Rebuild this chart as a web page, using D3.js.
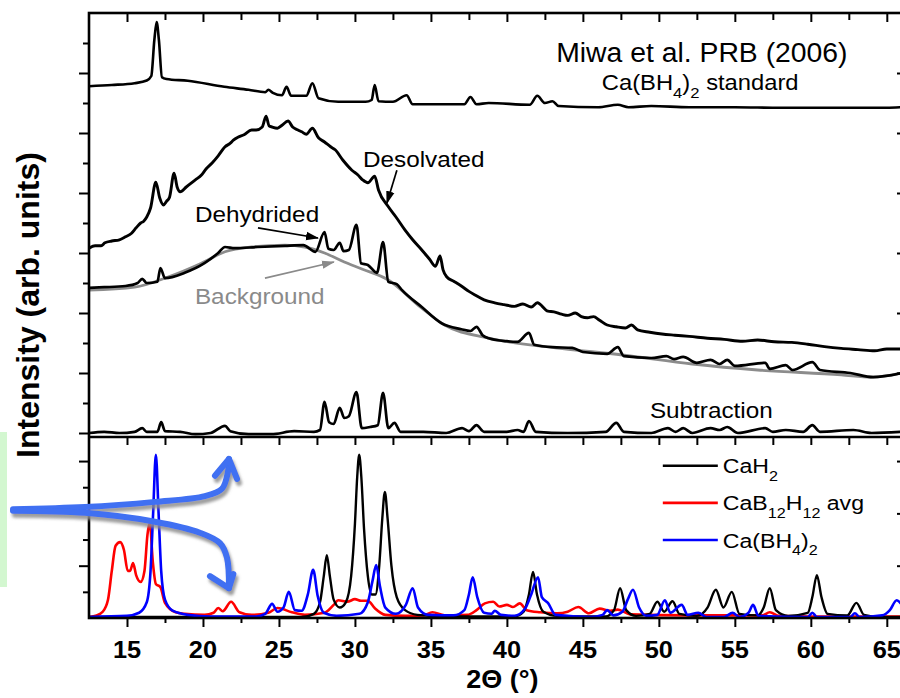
<!DOCTYPE html>
<html>
<head>
<meta charset="utf-8">
<script src="https://cdn.jsdelivr.net/npm/d3@7"></script>
<style>
  html, body { margin: 0; padding: 0; background: #fff; overflow: hidden; }
  svg { display: block; }
  text { font-family: "Liberation Sans", Arial, Helvetica, sans-serif; }
</style>
</head>
<body>
<svg id="chart" width="900" height="698"></svg>
<script>
// ---------------- data ----------------
// 2-theta axis ticks
const xTickValues = [15, 20, 25, 30, 35, 40, 45, 50, 55, 60, 65];
const xTickLabels = ["15", "20", "25", "30", "35", "40", "45", "50", "55", "60", "65"];
const xMinorTicks = [17.5, 22.5, 27.5, 32.5, 37.5, 42.5, 47.5, 52.5, 57.5, 62.5];

// upper panel (stacked, offset patterns) — [2theta, intensity]
const standardPattern = [
  [12.5,5.78],[14.0,5.80],[15.5,5.83],[16.3,5.875],[16.6,5.95],[16.8,6.55],[16.95,6.85],[17.1,6.55],[17.3,5.93],
  [17.6,5.90],[19.0,5.87],[21.4,5.77],[23.0,5.72],[24.1,5.68],[24.3,5.72],[24.6,5.67],[25.2,5.63],[25.5,5.77],
  [25.8,5.62],[26.8,5.62],[27.2,5.83],[27.6,5.58],[28.9,5.52],[30.7,5.52],[31.1,5.55],[31.3,5.80],[31.55,5.53],
  [32.5,5.52],[33.4,5.63],[33.8,5.48],[37.2,5.48],[37.6,5.60],[38.0,5.48],[38.8,5.50],[41.5,5.47],[42.0,5.62],
  [42.5,5.50],[43.0,5.53],[43.4,5.45],[46.0,5.43],[47.3,5.47],[48.0,5.43],[49.5,5.45],[52.0,5.43],[55.0,5.43],
  [58.0,5.42],[62.0,5.42],[65.0,5.42],[66.0,5.43]
];
const desolvatedPattern = [
  [12.5,3.08],[12.9,3.12],[13.3,3.12],[13.55,3.17],[14.0,3.20],[14.5,3.22],[14.9,3.27],[15.3,3.33],[15.6,3.42],
  [15.9,3.50],[16.1,3.53],[16.3,3.60],[16.55,3.75],[16.9,4.18],[17.15,3.92],[17.4,3.80],[17.6,3.86],[17.8,3.93],
  [18.1,4.33],[18.3,4.10],[18.5,4.02],[18.9,4.10],[19.2,4.16],[19.5,4.22],[19.9,4.30],[20.2,4.40],[20.6,4.50],
  [21.0,4.62],[21.45,4.77],[21.8,4.83],[22.0,4.88],[22.3,4.93],[22.7,4.97],[23.2,5.05],[23.5,5.05],[23.9,5.10],
  [24.15,5.28],[24.35,5.12],[24.55,5.10],[24.9,5.08],[25.2,5.13],[25.6,5.20],[25.9,5.10],[26.25,5.05],[26.5,5.02],
  [26.8,4.98],[27.2,5.08],[27.6,4.92],[28.0,4.85],[28.4,4.77],[28.7,4.72],[29.2,4.55],[29.8,4.38],[30.2,4.30],
  [30.5,4.22],[30.85,4.17],[31.3,4.28],[31.55,4.05],[32.2,3.77],[32.7,3.60],[33.3,3.38],[33.8,3.22],[34.4,3.05],
  [34.9,2.90],[35.3,2.78],[35.6,2.95],[35.8,2.72],[36.05,2.60],[36.5,2.53],[37.0,2.45],[37.5,2.36],[37.9,2.30],
  [38.5,2.22],[39.2,2.17],[39.8,2.14],[40.5,2.11],[41.05,2.15],[41.6,2.10],[42.0,2.17],[42.7,2.03],[43.1,2.02],
  [43.6,1.98],[44.0,1.96],[44.5,2.00],[44.9,1.94],[45.3,1.92],[45.7,1.94],[46.1,1.88],[46.6,1.80],[47.2,1.77],
  [47.8,1.75],[48.2,1.80],[48.6,1.72],[49.4,1.68],[50.2,1.65],[51.05,1.63],[52.0,1.61],[53.2,1.58],[54.3,1.56],
  [55.5,1.53],[56.5,1.55],[57.6,1.52],[58.75,1.51],[59.8,1.48],[60.9,1.44],[62.0,1.41],[63.1,1.39],[64.2,1.37],
  [65.0,1.40],[66.0,1.40]
];
const dehydridedPattern = [
  [12.5,2.42],[13.5,2.43],[14.9,2.45],[15.7,2.50],[16.0,2.57],[16.3,2.50],[17.0,2.52],[17.2,2.75],[17.5,2.58],
  [18.8,2.67],[20.1,2.83],[21.0,3.00],[21.45,3.10],[22.1,3.08],[23.6,3.10],[25.4,3.12],[26.6,3.13],[27.4,3.02],
  [28.0,3.35],[28.25,3.07],[28.6,3.05],[29.0,3.17],[29.25,3.03],[29.6,3.05],[30.1,3.47],[30.4,2.83],[30.85,2.80],
  [31.45,2.67],[31.85,3.18],[32.2,2.52],[32.75,2.48],[33.1,2.38],[34.4,2.10],[35.7,1.83],[37.0,1.73],[37.6,1.70],
  [38.0,1.77],[38.4,1.63],[38.8,1.58],[40.0,1.53],[40.7,1.52],[41.45,1.67],[41.8,1.47],[43.0,1.43],[44.3,1.42],
  [45.0,1.35],[46.6,1.32],[47.3,1.43],[47.7,1.28],[49.5,1.25],[50.5,1.28],[51.0,1.23],[51.6,1.27],[52.5,1.17],
  [53.4,1.22],[54.0,1.15],[54.5,1.22],[55.0,1.12],[57.0,1.17],[57.3,1.07],[58.35,1.13],[58.8,1.05],[60.1,1.18],
  [60.6,1.05],[62.6,1.00],[64.1,0.93],[66.0,1.00]
];
const backgroundFit = [
  [12.5,2.38],[15.5,2.43],[17.7,2.60],[19.9,2.83],[21.45,3.02],[23.2,3.10],[25.4,3.13],[26.7,3.10],[28.0,3.00],
  [29.3,2.85],[30.5,2.73],[32.2,2.55],[34.4,2.08],[35.9,1.80],[38.8,1.58],[43.2,1.42],[47.6,1.30],[52.2,1.15],
  [56.5,1.05],[62.0,0.97],[64.0,0.93],[66.0,1.00]
];
const subtractionPattern = [
  [12.5,0.00],[13.5,0.02],[14.5,0.00],[15.5,0.02],[16.0,0.08],[16.3,0.02],[17.0,0.02],[17.25,0.18],[17.5,0.03],
  [18.5,0.02],[19.5,-0.02],[20.5,0.00],[21.45,0.12],[21.8,0.03],[23.0,-0.02],[24.5,-0.02],[26.0,0.03],[27.3,0.02],
  [27.7,0.05],[28.0,0.52],[28.3,0.18],[28.6,0.15],[29.0,0.42],[29.3,0.25],[29.6,0.28],[30.1,0.68],[30.45,0.08],
  [31.0,0.10],[31.5,0.13],[31.85,0.67],[32.2,0.08],[32.6,0.17],[33.0,0.02],[34.5,0.02],[36.0,0.00],[37.05,0.08],
  [37.5,0.03],[38.0,0.13],[38.5,0.02],[40.0,0.02],[40.7,0.05],[41.1,0.02],[41.45,0.20],[41.9,0.02],[44.0,0.00],
  [46.5,0.02],[47.2,0.17],[47.7,0.02],[49.5,0.00],[50.6,0.08],[51.1,0.02],[51.6,0.08],[52.2,0.00],[53.4,0.08],
  [54.0,0.05],[54.5,0.10],[55.2,0.00],[57.0,0.08],[57.5,0.02],[58.35,0.05],[59.5,0.02],[60.1,0.13],[60.6,0.02],
  [62.8,0.05],[64.0,0.00],[66.0,0.02]
];

// lower panel reference patterns — [2theta, intensity]
const caH2Pattern = [
  [12.5,0.02],[20,0.02],[26.5,0.02],[27.3,0.08],[27.7,0.30],[27.95,0.80],[28.15,1.20],[28.35,0.80],[28.6,0.35],
  [29.0,0.20],[29.4,0.30],[29.75,0.80],[30.0,1.80],[30.15,2.70],[30.28,3.12],[30.42,2.70],[30.6,1.70],[30.85,0.80],
  [31.1,0.45],[31.35,0.45],[31.6,1.00],[31.8,1.90],[31.97,2.41],[32.15,1.90],[32.4,1.00],[32.75,0.40],[33.3,0.15],
  [34.1,0.06],[36,0.03],[40.5,0.03],[41.1,0.12],[41.45,0.45],[41.72,0.88],[41.98,0.45],[42.4,0.12],[43.3,0.04],
  [46.5,0.03],[47.05,0.15],[47.45,0.57],[47.85,0.15],[48.5,0.04],[49.4,0.08],[49.9,0.31],[50.35,0.12],[50.9,0.32],
  [51.35,0.08],[52.5,0.04],[53.2,0.20],[53.75,0.54],[54.25,0.20],[54.8,0.50],[55.3,0.08],[56.5,0.05],[56.9,0.20],
  [57.3,0.57],[57.7,0.15],[58.5,0.04],[59.8,0.10],[60.1,0.40],[60.4,0.82],[60.7,0.40],[61.1,0.08],[62.4,0.05],
  [63.0,0.29],[63.5,0.06],[64.5,0.02],[66,0.02]
];
const caB12H12Pattern = [
  [12.5,0.02],[13.0,0.05],[13.4,0.12],[13.75,0.35],[14.0,0.90],[14.25,1.38],[14.55,1.45],[14.8,1.30],[15.05,0.90],
  [15.2,0.90],[15.4,1.05],[15.6,0.82],[15.9,0.69],[16.15,0.90],[16.35,1.60],[16.5,1.82],[16.7,1.07],[16.9,0.65],
  [17.2,0.59],[17.5,0.29],[18.2,0.11],[18.8,0.08],[20.1,0.06],[20.7,0.10],[21.0,0.19],[21.3,0.13],[21.85,0.31],
  [22.4,0.11],[23.2,0.06],[24.3,0.10],[24.9,0.19],[25.85,0.11],[26.7,0.06],[28.0,0.10],[28.6,0.25],[28.9,0.34],
  [29.5,0.31],[30.0,0.36],[30.4,0.33],[30.85,0.33],[31.3,0.19],[32.0,0.06],[33.3,0.04],[34.5,0.05],[35.1,0.11],
  [35.9,0.05],[37.4,0.06],[38.0,0.15],[38.55,0.28],[39.1,0.31],[39.5,0.22],[40.0,0.25],[40.4,0.21],[40.85,0.28],
  [41.3,0.15],[42.2,0.11],[43.3,0.09],[44.0,0.12],[44.7,0.21],[45.4,0.09],[46.1,0.18],[46.8,0.14],[47.3,0.16],
  [48.1,0.07],[52.0,0.05],[56.8,0.05],[57.3,0.11],[57.9,0.04],[60,0.03],[66,0.03]
];
const caBH42Pattern = [
  [12.5,0.02],[15.0,0.04],[15.8,0.10],[16.3,0.30],[16.55,0.90],[16.72,2.00],[16.9,3.12],[17.08,2.00],[17.25,0.90],
  [17.5,0.35],[18.0,0.14],[19.0,0.06],[20.5,0.03],[23.5,0.03],[24.1,0.08],[24.55,0.27],[24.9,0.12],[25.3,0.20],
  [25.65,0.50],[26.05,0.15],[26.5,0.14],[26.9,0.45],[27.25,0.92],[27.55,0.42],[27.95,0.10],[28.8,0.04],[30.3,0.08],
  [30.85,0.30],[31.15,0.70],[31.4,1.01],[31.65,0.60],[32.0,0.20],[32.7,0.08],[33.35,0.25],[33.8,0.57],[34.15,0.20],
  [34.8,0.06],[36.5,0.05],[37.2,0.15],[37.5,0.45],[37.75,0.78],[38.05,0.40],[38.5,0.10],[39.0,0.08],[39.2,0.14],
  [39.6,0.06],[40.5,0.04],[41.2,0.18],[41.6,0.45],[42.05,0.78],[42.3,0.40],[42.7,0.29],[43.2,0.06],[45.5,0.02],
  [46.3,0.06],[46.6,0.15],[47.0,0.05],[47.6,0.12],[47.95,0.35],[48.3,0.54],[48.7,0.20],[49.2,0.04],[49.9,0.06],
  [50.4,0.34],[50.75,0.10],[51.5,0.25],[51.9,0.06],[52.6,0.10],[53.1,0.02],[54.3,0.02],[54.85,0.10],[55.3,0.02],
  [55.9,0.10],[56.2,0.25],[56.55,0.04],[59.8,0.02],[60.1,0.10],[60.4,0.02],[62.6,0.02],[62.9,0.09],[63.2,0.02],
  [64.7,0.05],[65.2,0.15],[65.65,0.34],[66.0,0.25]
];

const legendNames = [["CaH", ["2"]], ["CaB", ["12"], "H", ["12"], " avg"], ["Ca(BH", ["4"], ")", ["2"]]];
const legendColors = ["#000000", "#ff0000", "#0000ff"];

// hand-drawn blue callout strokes, in lower-panel coordinates [2theta, intensity]
const calloutUp = [[7.5,2.08],[12.24,2.12],[16.84,2.22],[20.13,2.33],[21.25,2.47],[21.64,2.79],[21.71,3.04]];
const calloutUpHead = [[20.79,2.72],[21.71,3.04],[22.24,2.66]];
const calloutDown = [[7.5,2.05],[12.24,2.01],[16.84,1.84],[19.8,1.63],[21.12,1.43],[21.58,1.15],[21.71,0.57]];
const calloutDownHead = [[20.46,0.80],[21.71,0.57],[22.0,0.84]];

// ---------------- layout ----------------
const svg = d3.select("#chart");
const plotL = 89, plotR = 902, plotT = 13, plotSplit = 437, plotB = 618;

const x = d3.scaleLinear().domain([12.5, 66]).range([plotL, plotR]);
const yTop = d3.scaleLinear().domain([-4 / 60, 7]).range([plotSplit, plotT]);
const yBot = d3.scaleLinear().domain([0, 3.46]).range([plotB, plotSplit]);

const defs = svg.append("defs");
function arrowMarker(id, color) {
  defs.append("marker").attr("id", id)
    .attr("markerUnits", "userSpaceOnUse")
    .attr("markerWidth", 14).attr("markerHeight", 10)
    .attr("refX", 12).attr("refY", 5).attr("orient", "auto")
    .append("path").attr("d", "M0,0.8 L13,5 L0,9.2 Z").attr("fill", color);
}
arrowMarker("headBlack", "#000");
arrowMarker("headGray", "#8a8a8a");
const shadow = defs.append("filter").attr("id", "penShadow")
  .attr("x", "-20%").attr("y", "-20%").attr("width", "140%").attr("height", "160%");
shadow.append("feDropShadow").attr("dx", 2).attr("dy", 4).attr("stdDeviation", 1.6)
  .attr("flood-color", "#8c8c8c").attr("flood-opacity", 0.85);

// text with optional subscripts; parts: "text" or ["sub"]
function richText(parent, px, py, parts, opt) {
  const size = opt.size, sx = opt.sx || 1.08;
  const g = parent.append("g").attr("transform", `translate(${px},${py}) scale(${sx},1)`);
  const t = g.append("text")
    .attr("font-size", size)
    .attr("font-weight", opt.weight || "normal")
    .attr("fill", opt.fill || "#000")
    .attr("text-anchor", opt.anchor || "start");
  let shift = 0;
  parts.forEach(p => {
    const sub = Array.isArray(p);
    const target = sub ? size * 0.36 : 0;
    t.append("tspan")
      .attr("dy", target - shift)
      .attr("font-size", sub ? size * 0.7 : size)
      .text(sub ? p[0] : p);
    shift = target;
  });
  return t;
}

// ---------------- curves ----------------
const lineTop = d3.line().x(d => x(d[0])).y(d => yTop(d[1])).curve(d3.curveMonotoneX);
const lineBot = d3.line().x(d => x(d[0])).y(d => yBot(d[1])).curve(d3.curveMonotoneX);

svg.append("clipPath").attr("id", "clipTop").append("rect")
  .attr("x", plotL).attr("y", plotT).attr("width", plotR - plotL).attr("height", plotSplit - plotT);
svg.append("clipPath").attr("id", "clipBot").append("rect")
  .attr("x", plotL).attr("y", plotSplit).attr("width", plotR - plotL).attr("height", plotB - plotSplit);

const gTop = svg.append("g").attr("clip-path", "url(#clipTop)")
  .attr("fill", "none").attr("stroke-linejoin", "round").attr("stroke-linecap", "round");
gTop.append("path").attr("d", lineTop(standardPattern)).attr("stroke", "#000").attr("stroke-width", 2.6);
gTop.append("path").attr("d", lineTop(desolvatedPattern)).attr("stroke", "#000").attr("stroke-width", 2.9);
gTop.append("path").attr("d", lineTop(backgroundFit)).attr("stroke", "#8c8c8c").attr("stroke-width", 2.8);
gTop.append("path").attr("d", lineTop(dehydridedPattern)).attr("stroke", "#000").attr("stroke-width", 2.7);
gTop.append("path").attr("d", lineTop(subtractionPattern)).attr("stroke", "#000").attr("stroke-width", 2.7);

const gBot = svg.append("g").attr("clip-path", "url(#clipBot)")
  .attr("fill", "none").attr("stroke-linejoin", "round");
gBot.append("path").attr("d", lineBot(caB12H12Pattern)).attr("stroke", "#ff0000").attr("stroke-width", 2.6);
gBot.append("path").attr("d", lineBot(caH2Pattern)).attr("stroke", "#000").attr("stroke-width", 2.4);
gBot.append("path").attr("d", lineBot(caBH42Pattern)).attr("stroke", "#0000ff").attr("stroke-width", 2.6);

// ---------------- axes ----------------
function tickLayer(axis, tx, ty) {
  const g = svg.append("g").attr("transform", `translate(${tx},${ty})`).call(axis);
  g.select(".domain").remove();
  g.selectAll(".tick text").remove();
  g.selectAll(".tick line").attr("stroke", "#000").attr("stroke-width", 2);
  return g;
}
const allX = xTickValues.concat(xMinorTicks);
tickLayer(d3.axisTop(x).tickValues(xTickValues).tickSize(-9), 0, plotT);
tickLayer(d3.axisTop(x).tickValues(xMinorTicks).tickSize(-7), 0, plotT);
tickLayer(d3.axisTop(x).tickValues(allX).tickSize(-8), 0, plotSplit);
tickLayer(d3.axisBottom(x).tickValues(xTickValues).tickSize(9), 0, plotB);
tickLayer(d3.axisBottom(x).tickValues(xMinorTicks).tickSize(5), 0, plotB);

tickLayer(d3.axisLeft(yTop).tickValues([0, 1, 2, 3, 4, 5, 6]).tickSize(10), plotL, 0);
tickLayer(d3.axisLeft(yTop).tickValues([0.5, 1.5, 2.5, 3.5, 4.5, 5.5, 6.5]).tickSize(6), plotL, 0);
tickLayer(d3.axisLeft(yBot).tickValues([1, 2, 3]).tickSize(10), plotL, 0);
tickLayer(d3.axisLeft(yBot).tickValues([0.5, 1.5, 2.5]).tickSize(6), plotL, 0);
tickLayer(d3.axisRight(yTop).tickValues([1, 2, 3, 4, 5, 6]).tickSize(-5), plotR, 0);
tickLayer(d3.axisRight(yBot).tickValues([1, 2, 3]).tickSize(-5), plotR, 0);

// frame and panel divider
const frame = svg.append("g").attr("stroke", "#000").attr("stroke-width", 2.6).attr("fill", "none");
frame.append("rect").attr("x", plotL).attr("y", plotT).attr("width", plotR - plotL).attr("height", plotB - plotT);
frame.append("line").attr("x1", plotL).attr("x2", plotR).attr("y1", plotSplit).attr("y2", plotSplit);

// tick labels
const labels = svg.append("g");
xTickValues.forEach((v, i) => {
  richText(labels, x(v), 658, [xTickLabels[i]], { size: 23.5, weight: "bold", anchor: "middle" });
});
richText(labels, x(39.7), 688, ["2\u0398 (\u00b0)"], { size: 25, weight: "bold", anchor: "middle" });
labels.append("text")
  .attr("transform", `translate(39,${(152 + 458) / 2}) rotate(-90)`)
  .attr("text-anchor", "middle").attr("font-size", 32).attr("font-weight", "bold")
  .text("Intensity (arb. units)");

// ---------------- annotations ----------------
const ann = svg.append("g");
richText(ann, x(52.83), yTop(6.18), ["Miwa et al. PRB (2006)"], { size: 27, anchor: "middle", sx: 1.05 });
richText(ann, x(46.25), yTop(5.72), ["Ca(BH", ["4"], ")", ["2"], " standard"], { size: 22 });
richText(ann, x(30.53), yTop(4.43), ["Desolvated"], { size: 22.5 });
richText(ann, x(19.47), yTop(3.52), ["Dehydrided"], { size: 22.5 });
richText(ann, x(19.47), yTop(2.15), ["Background"], { size: 22.5, fill: "#8a8a8a" });
richText(ann, x(49.41), yTop(0.25), ["Subtraction"], { size: 22.5 });

function pointer(from, to, color, marker) {
  ann.append("line")
    .attr("x1", x(from[0])).attr("y1", yTop(from[1]))
    .attr("x2", x(to[0])).attr("y2", yTop(to[1]))
    .attr("stroke", color).attr("stroke-width", 1.7)
    .attr("marker-end", `url(#${marker})`);
}
pointer([32.76, 4.38], [32.1, 3.83], "#000", "headBlack");
pointer([23.62, 3.42], [27.57, 3.25], "#000", "headBlack");
pointer([24.08, 2.58], [28.62, 2.85], "#8a8a8a", "headGray");

// legend
const leg = svg.append("g");
const legLineY = [2.91, 2.20, 1.49];
const legTextY = [2.77, 2.06, 1.34];
legendNames.forEach((name, i) => {
  leg.append("line")
    .attr("x1", x(50.26)).attr("x2", x(53.88))
    .attr("y1", yBot(legLineY[i])).attr("y2", yBot(legLineY[i]))
    .attr("stroke", legendColors[i]).attr("stroke-width", 2.6);
  richText(leg, x(54.21), yBot(legTextY[i]), name, { size: 21, sx: 1.1 });
});

// side marker strip
svg.append("rect").attr("x", 0).attr("y", 432).attr("width", 7).attr("height", 155).attr("fill", "#d3f7d0");

// blue pen callouts
const pen = d3.line().x(d => x(d[0])).y(d => yBot(d[1])).curve(d3.curveCatmullRom.alpha(0.5));
const penHead = d3.line().x(d => x(d[0])).y(d => yBot(d[1]));
const penG = svg.append("g").attr("filter", "url(#penShadow)")
  .attr("fill", "none").attr("stroke", "#3f6ff2").attr("stroke-width", 6)
  .attr("stroke-linecap", "round").attr("stroke-linejoin", "round");
[calloutUp, calloutDown].forEach(p => penG.append("path").attr("d", pen(p)));
[calloutUpHead, calloutDownHead].forEach(p => penG.append("path").attr("d", penHead(p)));
</script>
</body>
</html>
